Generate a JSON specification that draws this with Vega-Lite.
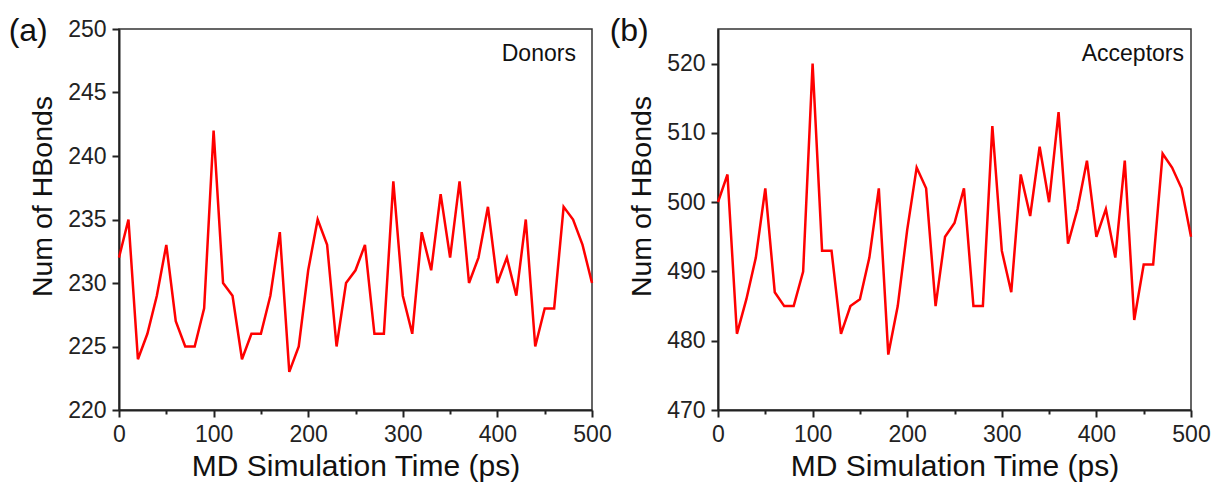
{
  "$schema": "https://vega.github.io/schema/vega-lite/v6.json",
  "background": "white",
  "padding": {"left": 7, "top": 14, "right": 0, "bottom": 0},
  "bounds": "flush",
  "config": {
    "font": "Liberation Sans",
    "view": {"stroke": "#333333", "strokeWidth": 1.5},
    "concat": {"spacing": 126},
    "axis": {
      "grid": false,
      "ticks": true,
      "labelFlush": false,
      "domainColor": "#222222",
      "domainWidth": 2,
      "tickColor": "#222222",
      "tickWidth": 2,
      "tickSize": 7,
      "labelFont": "Liberation Sans",
      "labelFontSize": 23,
      "labelColor": "#222222",
      "titleFont": "Liberation Sans",
      "titleFontWeight": "normal",
      "titleColor": "#111111"
    },
    "title": {"font": "Liberation Sans", "fontWeight": "normal", "fontSize": 32, "color": "#111111", "anchor": "start", "frame": "bounds"}
  },
  "datasets": {
    "md": [
      {"t": 0, "donors": 232, "acceptors": 500},
      {"t": 10, "donors": 235, "acceptors": 504},
      {"t": 20, "donors": 224, "acceptors": 481},
      {"t": 30, "donors": 226, "acceptors": 486},
      {"t": 40, "donors": 229, "acceptors": 492},
      {"t": 50, "donors": 233, "acceptors": 502},
      {"t": 60, "donors": 227, "acceptors": 487},
      {"t": 70, "donors": 225, "acceptors": 485},
      {"t": 80, "donors": 225, "acceptors": 485},
      {"t": 90, "donors": 228, "acceptors": 490},
      {"t": 100, "donors": 242, "acceptors": 520},
      {"t": 110, "donors": 230, "acceptors": 493},
      {"t": 120, "donors": 229, "acceptors": 493},
      {"t": 130, "donors": 224, "acceptors": 481},
      {"t": 140, "donors": 226, "acceptors": 485},
      {"t": 150, "donors": 226, "acceptors": 486},
      {"t": 160, "donors": 229, "acceptors": 492},
      {"t": 170, "donors": 234, "acceptors": 502},
      {"t": 180, "donors": 223, "acceptors": 478},
      {"t": 190, "donors": 225, "acceptors": 485},
      {"t": 200, "donors": 231, "acceptors": 496},
      {"t": 210, "donors": 235, "acceptors": 505},
      {"t": 220, "donors": 233, "acceptors": 502},
      {"t": 230, "donors": 225, "acceptors": 485},
      {"t": 240, "donors": 230, "acceptors": 495},
      {"t": 250, "donors": 231, "acceptors": 497},
      {"t": 260, "donors": 233, "acceptors": 502},
      {"t": 270, "donors": 226, "acceptors": 485},
      {"t": 280, "donors": 226, "acceptors": 485},
      {"t": 290, "donors": 238, "acceptors": 511},
      {"t": 300, "donors": 229, "acceptors": 493},
      {"t": 310, "donors": 226, "acceptors": 487},
      {"t": 320, "donors": 234, "acceptors": 504},
      {"t": 330, "donors": 231, "acceptors": 498},
      {"t": 340, "donors": 237, "acceptors": 508},
      {"t": 350, "donors": 232, "acceptors": 500},
      {"t": 360, "donors": 238, "acceptors": 513},
      {"t": 370, "donors": 230, "acceptors": 494},
      {"t": 380, "donors": 232, "acceptors": 499},
      {"t": 390, "donors": 236, "acceptors": 506},
      {"t": 400, "donors": 230, "acceptors": 495},
      {"t": 410, "donors": 232, "acceptors": 499},
      {"t": 420, "donors": 229, "acceptors": 492},
      {"t": 430, "donors": 235, "acceptors": 506},
      {"t": 440, "donors": 225, "acceptors": 483},
      {"t": 450, "donors": 228, "acceptors": 491},
      {"t": 460, "donors": 228, "acceptors": 491},
      {"t": 470, "donors": 236, "acceptors": 507},
      {"t": 480, "donors": 235, "acceptors": 505},
      {"t": 490, "donors": 233, "acceptors": 502},
      {"t": 500, "donors": 230, "acceptors": 495}
    ]
  },
  "hconcat": [
    {
      "width": 473,
      "height": 381,
      "title": {"text": "(a)", "offset": -30, "dx": -20},
      "layer": [
        {
          "data": {"name": "md"},
          "mark": {"type": "line", "color": "#ff0000", "strokeWidth": 2.5},
          "encoding": {
            "x": {
              "field": "t", "type": "quantitative",
              "scale": {"domain": [0, 500], "nice": false},
              "axis": {
                "title": "MD Simulation Time (ps)",
                "titleFontSize": 30,
                "titlePadding": 5,
                "ticks": true,
                "tickSize": {"condition": {"test": "datum.value % 100 === 0", "value": 7}, "value": 4},
                "values": [0, 50, 100, 150, 200, 250, 300, 350, 400, 450, 500],
                "labelExpr": "datum.value % 100 === 0 ? datum.label : ''",
                "labelFontSize": 23,
                "labelPadding": 6
              }
            },
            "y": {
              "field": "donors", "type": "quantitative",
              "scale": {"domain": [220, 250], "nice": false, "zero": false},
              "axis": {
                "title": "Num of HBonds",
                "titleFontSize": 28.5,
                "titleY": 167,
                "titlePadding": 10,
                "ticks": true,
                "tickSize": {"condition": {"test": "datum.value % 5 === 0", "value": 7}, "value": 4},
                "values": [220, 222.5, 225, 227.5, 230, 232.5, 235, 237.5, 240, 242.5, 245, 247.5, 250],
                "labelExpr": "datum.value % 5 === 0 ? datum.label : ''",
                "labelFontSize": 23,
                "labelPadding": 6
              }
            }
          }
        },
        {
          "data": {"values": [{"label": "Donors"}]},
          "mark": {"type": "text", "align": "right", "baseline": "alphabetic", "fontSize": 23, "font": "Liberation Sans", "color": "#111111"},
          "encoding": {
            "x": {"datum": 483},
            "y": {"datum": 247.5},
            "text": {"field": "label"}
          }
        }
      ]
    },
    {
      "width": 473,
      "height": 381,
      "title": {"text": "(b)", "offset": -19, "dx": -18},
      "layer": [
        {
          "data": {"name": "md"},
          "mark": {"type": "line", "color": "#ff0000", "strokeWidth": 2.5},
          "encoding": {
            "x": {
              "field": "t", "type": "quantitative",
              "scale": {"domain": [0, 500], "nice": false},
              "axis": {
                "title": "MD Simulation Time (ps)",
                "titleFontSize": 30,
                "titlePadding": 5,
                "ticks": true,
                "tickSize": {"condition": {"test": "datum.value % 100 === 0", "value": 7}, "value": 4},
                "values": [0, 50, 100, 150, 200, 250, 300, 350, 400, 450, 500],
                "labelExpr": "datum.value % 100 === 0 ? datum.label : ''",
                "labelFontSize": 23,
                "labelPadding": 6
              }
            },
            "y": {
              "field": "acceptors", "type": "quantitative",
              "scale": {"domain": [470, 525], "nice": false, "zero": false},
              "axis": {
                "title": "Num of HBonds",
                "titleFontSize": 28.5,
                "titleY": 167,
                "titlePadding": 10,
                "ticks": true,
                "tickSize": {"condition": {"test": "datum.value % 10 === 0", "value": 7}, "value": 4},
                "values": [470, 475, 480, 485, 490, 495, 500, 505, 510, 515, 520],
                "labelExpr": "datum.value % 10 === 0 ? datum.label : ''",
                "labelFontSize": 23,
                "labelPadding": 6
              }
            }
          }
        },
        {
          "data": {"values": [{"label": "Acceptors"}]},
          "mark": {"type": "text", "align": "right", "baseline": "alphabetic", "fontSize": 23, "font": "Liberation Sans", "color": "#111111"},
          "encoding": {
            "x": {"datum": 492.6},
            "y": {"datum": 520.4},
            "text": {"field": "label"}
          }
        }
      ]
    }
  ]
}
